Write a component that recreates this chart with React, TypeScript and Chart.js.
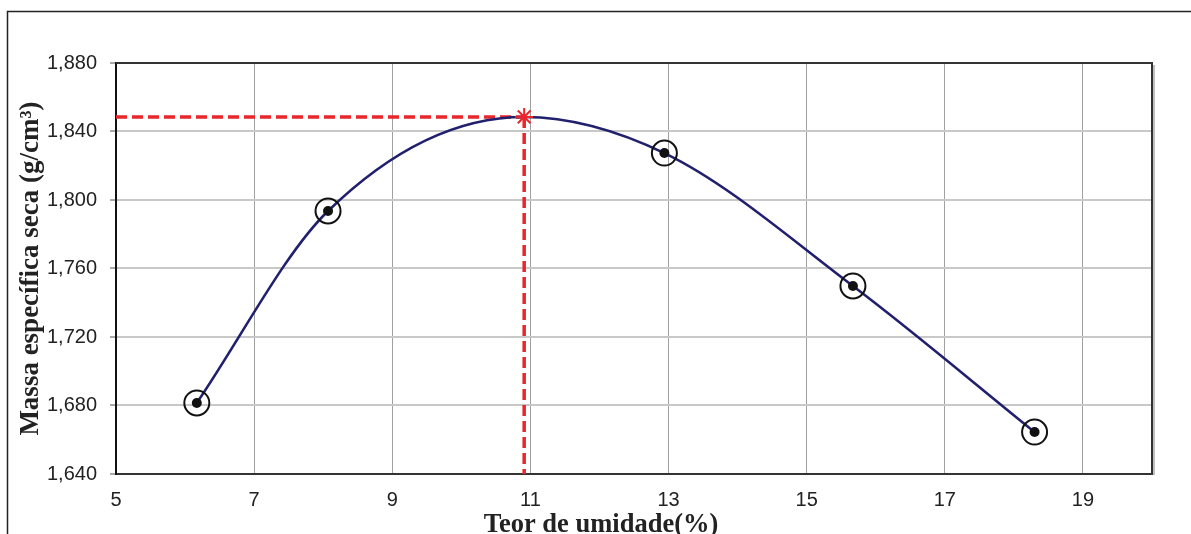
import React, { useEffect, useRef } from "react";
import { Chart, registerables } from "chart.js";

Chart.register(...registerables);

// Measured points: moisture content (%) and dry density (g/cm³)
const moisture = [6.17, 8.07, 12.94, 15.67, 18.3];
const density = [1.6815, 1.7936, 1.8274, 1.7498, 1.6645];

// Optimum (peak of the compaction curve)
const optMoisture = 10.91;
const maxDensity = 1.8485;

// Curve nodes (measured points plus optimum)
const curveX = [6.17, 8.07, 10.91, 12.94, 15.67, 18.3];
const curveY = [1.6815, 1.7936, 1.8485, 1.8274, 1.7498, 1.6645];

const xTicks = [5, 7, 9, 11, 13, 15, 17, 19];
const yTicks = [1.64, 1.68, 1.72, 1.76, 1.8, 1.84, 1.88];
const xMin = 5;
const xMax = 20;
const yMin = 1.64;
const yMax = 1.88;

const yTitle = "Massa específica seca (g/cm³)";
const xTitle = "Teor de umidade(%)";

export default function App() {
  const ref = useRef<HTMLCanvasElement | null>(null);

  useEffect(() => {
    document.body.style.margin = "0";
    const canvas = ref.current;
    if (!canvas) return;

    const pts = moisture.map((x, i) => ({ x, y: density[i] }));
    const curve = curveX.map((x, i) => ({ x, y: curveY[i] }));

    const framePlugin = {
      id: "frame",
      beforeDraw(chart: any) {
        const ctx = chart.ctx;
        ctx.save();
        ctx.fillStyle = "#ffffff";
        ctx.fillRect(0, 0, chart.width, chart.height);
        ctx.strokeStyle = "#222222";
        ctx.lineWidth = 1.5;
        ctx.beginPath();
        ctx.moveTo(7.5, chart.height);
        ctx.lineTo(7.5, 11.5);
        ctx.lineTo(chart.width, 11.5);
        ctx.stroke();
        ctx.restore();
      },
      afterDatasetsDraw(chart: any) {
        const ctx = chart.ctx;
        const a = chart.chartArea;
        ctx.save();
        ctx.strokeStyle = "#c0c0c0";
        ctx.lineWidth = 2;
        ctx.beginPath();
        ctx.moveTo(a.right + 2, a.top + 2);
        ctx.lineTo(a.right + 2, a.bottom + 1);
        ctx.stroke();
        ctx.strokeStyle = "#333333";
        ctx.lineWidth = 2;
        ctx.beginPath();
        ctx.moveTo(a.left, a.top);
        ctx.lineTo(a.right, a.top);
        ctx.lineTo(a.right, a.bottom);
        ctx.stroke();
        ctx.fillStyle = "#222222";
        ctx.font = 'bold 26.5px "Liberation Serif"';
        ctx.textAlign = "center";
        ctx.textBaseline = "alphabetic";
        ctx.fillText(xTitle, 601, 532);
        ctx.restore();
      },
    };

    const chart = new Chart(canvas, {
      type: "scatter",
      data: {
        datasets: [
          {
            type: "line",
            data: [
              { x: xMin, y: maxDensity },
              { x: optMoisture, y: maxDensity },
            ],
            borderColor: "#e8262b",
            borderWidth: 3.5,
            borderDash: [11, 5],
            pointRadius: 0,
            showLine: true,
            fill: false,
            order: 5,
          } as any,
          {
            type: "line",
            data: [
              { x: optMoisture, y: maxDensity },
              { x: optMoisture, y: yMin },
            ],
            borderColor: "#e8262b",
            borderWidth: 3.5,
            borderDash: [11, 5],
            pointRadius: 0,
            showLine: true,
            fill: false,
            order: 5,
          } as any,
          {
            type: "line",
            data: curve,
            borderColor: "#20206e",
            borderWidth: 2.6,
            cubicInterpolationMode: "monotone",
            pointRadius: 0,
            showLine: true,
            fill: false,
            order: 4,
          } as any,
          {
            data: pts,
            pointRadius: 12.5,
            pointBackgroundColor: "rgba(0,0,0,0)",
            pointBorderColor: "#111111",
            pointBorderWidth: 2,
            showLine: false,
            order: 3,
          } as any,
          {
            data: pts,
            pointRadius: 5,
            pointBackgroundColor: "#111111",
            pointBorderColor: "#111111",
            pointBorderWidth: 0,
            showLine: false,
            order: 2,
          } as any,
          {
            data: [{ x: optMoisture, y: maxDensity }],
            pointStyle: "star",
            pointRadius: 9,
            pointBorderColor: "#e8262b",
            pointBorderWidth: 2,
            showLine: false,
            order: 1,
          } as any,
        ],
      },
      options: {
        responsive: false,
        animation: false,
        events: [],
        layout: { padding: { left: 0, top: 63, right: 39, bottom: 0 } },
        plugins: {
          legend: { display: false },
          tooltip: { enabled: false },
          title: { display: false },
        },
        scales: {
          x: {
            type: "linear",
            min: xMin,
            max: xMax,
            afterBuildTicks: (s: any) => {
              s.ticks = xTicks.map((v) => ({ value: v }));
            },
            afterFit: (s: any) => {
              s.height = 60;
            },
            ticks: {
              font: { family: '"Liberation Sans"', size: 20 },
              color: "#222222",
              padding: 14,
              maxRotation: 0,
              autoSkip: false,
              callback: (v: any) => String(v),
            },
            grid: { color: "#a0a0a0", lineWidth: 1, drawTicks: false },
            border: { color: "#333333", width: 2 },
          },
          y: {
            type: "linear",
            min: yMin,
            max: yMax,
            afterBuildTicks: (s: any) => {
              s.ticks = yTicks.map((v) => ({ value: v }));
            },
            afterFit: (s: any) => {
              s.width = 116;
            },
            ticks: {
              font: { family: '"Liberation Sans"', size: 20 },
              color: "#222222",
              padding: 13,
              autoSkip: false,
              callback: (v: any) => Number(v).toFixed(3).replace(".", ","),
            },
            grid: {
              color: "#c8c8c8",
              lineWidth: 2,
              tickLength: 6,
              tickColor: "#555555",
              tickWidth: 1,
            } as any,
            border: { color: "#111111", width: 2 },
            title: {
              display: true,
              text: yTitle,
              color: "#222222",
              font: { family: '"Liberation Serif"', size: 27, weight: "bold" },
              padding: { top: 15, bottom: 0 },
            },
          },
        },
      } as any,
      plugins: [framePlugin],
    });

    return () => chart.destroy();
  }, []);

  return (
    <canvas
      ref={ref}
      width={1191}
      height={534}
      style={{ display: "block", width: 1191, height: 534 }}
    />
  );
}
